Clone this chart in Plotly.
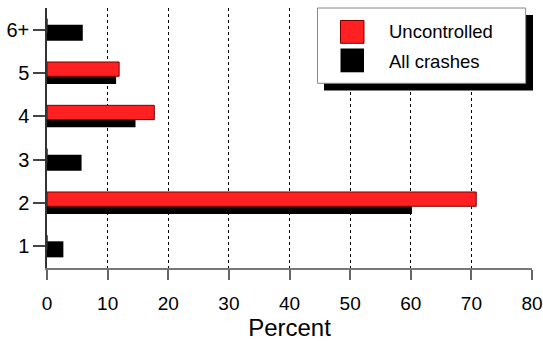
import plotly.graph_objects as go

# ---- data ----
categories = ["1", "2", "3", "4", "5", "6+"]
uncontrolled = [0, 70.8, 0, 17.7, 11.9, 0]
all_crashes = [2.7, 60.2, 5.7, 14.6, 11.4, 5.9]
series_names = ["Uncontrolled", "All crashes"]
x_ticks = [0, 10, 20, 30, 40, 50, 60, 70, 80]

W, H = 543, 341
ML, MR, MT, MB = 47, 11, 8, 73
PW, PH = W - ML - MR, H - MT - MB

def px(x):
    return (x - ML) / PW

def py(y):
    return (H - MB - y) / PH

RED = "#FF2121"
RED_EDGE = "#7A0000"
FONT = "Liberation Sans, Arial, Helvetica, sans-serif"

fig = go.Figure()
fig.add_trace(go.Bar(
    y=categories, x=all_crashes, orientation="h", name=series_names[1],
    marker=dict(color="black", line=dict(width=0)),
    offset=-0.254, width=0.37, showlegend=False,
))
fig.add_trace(go.Bar(
    y=categories, x=uncontrolled, orientation="h", name=series_names[0],
    marker=dict(color=RED, line=dict(color=RED_EDGE, width=1)),
    offset=-0.076, width=0.33, showlegend=False,
))

shapes = []
# legend shadow and box
shapes.append(dict(type="rect", xref="paper", yref="paper",
                   x0=px(324), x1=px(533), y0=py(15), y1=py(90.5),
                   fillcolor="black", line=dict(width=0), layer="above"))
shapes.append(dict(type="rect", xref="paper", yref="paper",
                   x0=px(317.5), x1=px(525.7), y0=py(8), y1=py(83.3),
                   fillcolor="white", line=dict(color="#888888", width=1), layer="above"))
# swatches
shapes.append(dict(type="rect", xref="paper", yref="paper",
                   x0=px(340.5), x1=px(364), y0=py(20.5), y1=py(43.3),
                   fillcolor=RED, line=dict(color=RED_EDGE, width=1), layer="above"))
shapes.append(dict(type="rect", xref="paper", yref="paper",
                   x0=px(340.5), x1=px(364), y0=py(48.5), y1=py(72.3),
                   fillcolor="black", line=dict(width=0), layer="above"))

annotations = [
    dict(x=px(387), y=py(31.5), xref="paper", yref="paper", text=series_names[0],
         showarrow=False, xanchor="left", yanchor="middle",
         font=dict(family=FONT, size=18.5, color="black")),
    dict(x=px(387), y=py(61), xref="paper", yref="paper", text=series_names[1],
         showarrow=False, xanchor="left", yanchor="middle",
         font=dict(family=FONT, size=18.5, color="black")),
]

fig.update_layout(
    width=W, height=H,
    margin=dict(l=ML, r=MR, t=MT, b=MB, pad=0, autoexpand=False),
    paper_bgcolor="white", plot_bgcolor="white",
    barmode="overlay",
    showlegend=False,
    shapes=shapes, annotations=annotations,
    font=dict(family=FONT, color="black"),
    xaxis=dict(
        range=[0, 80], tickvals=x_ticks, ticktext=[str(v) for v in x_ticks],
        showgrid=True, gridcolor="black", griddash="dot", gridwidth=1,
        zeroline=False, showline=True, linecolor="#777777", linewidth=1.5,
        ticks="outside", ticklen=10, tickcolor="#666666", tickwidth=1.5,
        tickfont=dict(size=19, family=FONT, color="black"),
        ticklabelstandoff=7,
        automargin=False,
        title=dict(text="Percent", font=dict(size=24, family=FONT, color="black"), standoff=5),
    ),
    yaxis=dict(
        type="category", categoryorder="array", categoryarray=categories,
        range=[-0.5, 5.5], automargin=False,
        showgrid=False, zeroline=False, showline=True, linecolor="#333333", linewidth=1.5,
        ticks="outside", ticklen=12, tickcolor="#444444", tickwidth=1.5,
        tickfont=dict(size=20, family=FONT, color="black"),
    ),
)

fig.write_html(
    "out.html",
    config={"displayModeBar": False},
    post_script="document.body.style.margin='0';document.body.style.overflow='hidden';",
)
